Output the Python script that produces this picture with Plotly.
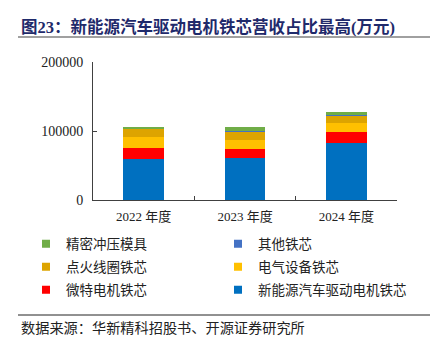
import plotly.graph_objects as go

years = ["2022 年度", "2023 年度", "2024 年度"]
nev_core = [59400, 60300, 82000]      # 新能源汽车驱动电机铁芯
micro_core = [16400, 13600, 15900]    # 微特电机铁芯
elec_core = [15900, 13500, 13000]     # 电气设备铁芯
ignition_core = [12000, 11600, 11100] # 点火线圈铁芯
other_core = [300, 1400, 1400]        # 其他铁芯
die = [2200, 5400, 3900]              # 精密冲压模具
y_ticks = [0, 100000, 200000]

series = [
    ("新能源汽车驱动电机铁芯", nev_core, "#0070C0", "legend3"),
    ("微特电机铁芯", micro_core, "#FF0000", "legend3"),
    ("电气设备铁芯", elec_core, "#FFC000", "legend2"),
    ("点火线圈铁芯", ignition_core, "#DDA400", "legend2"),
    ("其他铁芯", other_core, "#4472C4", "legend"),
    ("精密冲压模具", die, "#70AD47", "legend"),
]

FONT = "Liberation Serif, Noto Sans CJK SC, serif"
fig = go.Figure()
for name, vals, col, lg in series:
    fig.add_trace(go.Bar(x=years, y=vals, name=name, marker_color=col,
                         marker_line_width=0, width=0.4, showlegend=False))
for name, vals, col, lg in series:
    fig.add_trace(go.Scatter(x=[None], y=[None], mode="markers", name=name, legend=lg,
                             marker=dict(symbol="square", size=8, color=col)))

# plot area in reference pixels: x 93..397, y 62..200 ; page has 8px body margin
def px(xr):
    return (xr - 93) / 304

def py(yr):
    return (200 - yr) / 138

leg_common = dict(orientation="h", traceorder="reversed", xanchor="left", yanchor="top",
                  entrywidth=147, entrywidthmode="pixels", itemwidth=30,
                  font=dict(size=13.5, family=FONT, color="#222222"),
                  bgcolor="rgba(0,0,0,0)")

fig.update_layout(
    width=440, height=355,
    barmode="stack",
    plot_bgcolor="white", paper_bgcolor="white",
    margin=dict(l=85, r=51, t=54, b=163, autoexpand=False),
    font=dict(family=FONT, size=13, color="#222222"),
    showlegend=True,
    legend=dict(x=px(26), y=py(228.5), **leg_common),
    legend2=dict(x=px(26), y=py(251.5), **leg_common),
    legend3=dict(x=px(26), y=py(274.5), **leg_common),
)
fig.update_xaxes(type="category", showline=True, linecolor="#404040", linewidth=1,
                 ticks="inside", tickson="boundaries", ticklen=4, tickcolor="#404040",
                 range=[-0.5, 2.5], showgrid=False, tickfont=dict(size=13),
                 ticklabelstandoff=4)
fig.update_yaxes(range=[0, 200000], tickvals=y_ticks, ticktext=[str(v) for v in y_ticks],
                 showline=True, linecolor="#404040", linewidth=1, ticks="inside",
                 ticklen=4, tickcolor="#404040", showgrid=False, zeroline=False,
                 tickfont=dict(size=14), ticklabelstandoff=6)

fig.add_annotation(text="<b>图23：新能源汽车驱动电机铁芯营收占比最高(万元)</b>",
                   xref="paper", yref="paper", x=px(19), y=py(27),
                   xanchor="left", yanchor="middle", showarrow=False,
                   font=dict(size=16.5, color="#1F2A6B", family=FONT))
fig.add_shape(type="line", xref="paper", yref="paper",
              x0=px(18), x1=px(430), y0=py(37), y1=py(37),
              line=dict(color="#A0A0A0", width=2))
fig.add_shape(type="line", xref="paper", yref="paper",
              x0=px(18), x1=px(430), y0=py(315), y1=py(315),
              line=dict(color="#222222", width=1))
fig.add_annotation(text="数据来源：华新精科招股书、开源证券研究所",
                   xref="paper", yref="paper", x=px(19), y=py(328),
                   xanchor="left", yanchor="middle", showarrow=False,
                   font=dict(size=14.2, color="#222222", family=FONT))

fig.write_html("out.html")
